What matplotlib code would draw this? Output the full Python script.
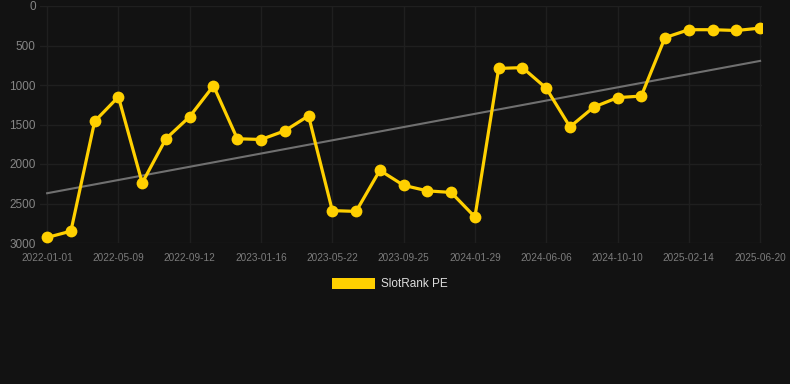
import matplotlib
matplotlib.use("Agg")
import matplotlib.pyplot as plt
from matplotlib.patches import Patch
import numpy as np

plt.rcParams['font.family'] = ['Liberation Sans', 'DejaVu Sans']

# ---- data ----
series_name = "SlotRank PE"
rank_values = [2930, 2850, 1460, 1150, 2240, 1680, 1400, 1010, 1680, 1690,
               1580, 1390, 2590, 2600, 2080, 2270, 2340, 2360, 2670, 790,
               780, 1040, 1530, 1280, 1160, 1140, 400, 300, 300, 310, 280]
tick_labels = ["2022-01-01", "2022-05-09", "2022-09-12", "2023-01-16",
               "2023-05-22", "2023-09-25", "2024-01-29", "2024-06-06",
               "2024-10-10", "2025-02-14", "2025-06-20"]
trend_values = [2370, 695]  # trend line start / end
y_ticks = [0, 500, 1000, 1500, 2000, 2500, 3000]

# ---- style ----
BG = "#121212"
YELLOW = "#FFD000"
GRID = "#1f1f1f"

W, H = 790, 384
fig = plt.figure(figsize=(W / 100, H / 100), dpi=100, facecolor=BG)
left, right, top, bottom = 40, 762, 6, 243
ax = fig.add_axes([left / W, 1 - bottom / H, (right - left) / W, (bottom - top) / H])
ax.set_facecolor(BG)

x = np.arange(len(rank_values))
ax.plot([x[0], x[-1]], trend_values, color="#707070", lw=1.5, zorder=2)
ax.plot(x, rank_values, color=YELLOW, lw=2.3, marker="o", ms=8.5,
        markeredgewidth=0, zorder=3, solid_joinstyle="round")

ax.set_xlim(-0.3, len(rank_values) - 1 + 0.08)
ax.set_ylim(3000, 0)

tick_pos = x[::3]
ax.set_xticks(tick_pos)
ax.set_xticklabels(tick_labels, fontsize=7.2, color="#7c7c7c")
ax.set_yticks(y_ticks)
ax.set_yticklabels([str(v) for v in y_ticks], fontsize=8.5, color="#858585")
ax.tick_params(axis="x", length=0, pad=7)
ax.tick_params(axis="y", length=0, pad=3)

ax.grid(True, color=GRID, lw=1.0, zorder=0)
for s in ax.spines.values():
    s.set_visible(False)

handle = Patch(facecolor=YELLOW, edgecolor="none")
leg = fig.legend([handle], [series_name], loc="center",
                 bbox_to_anchor=(390 / W, 1 - 284 / H), frameon=False,
                 fontsize=8.5, handlelength=3.6, handleheight=1.1,
                 handletextpad=0.5, labelcolor="#dddddd")

fig.savefig("out.png", dpi=100, facecolor=BG)
